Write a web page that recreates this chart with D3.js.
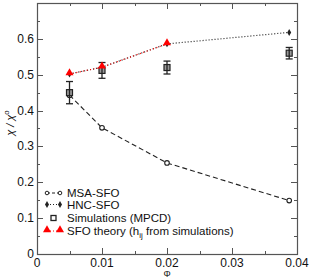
<!DOCTYPE html>
<html>
<head>
<meta charset="utf-8">
<script src="https://cdn.jsdelivr.net/npm/d3@7"></script>
<style>
  body { margin: 0; background: #fff; }
  text { font-family: "Liberation Sans", Arial, sans-serif; fill: #111; }
</style>
</head>
<body>
<div id="chart"></div>
<script>
// chart values
var msaX = [0.005, 0.01, 0.02, 0.0388];
var msaY = [0.443, 0.352, 0.254, 0.149];
var hncX = [0.005, 0.01, 0.02, 0.0388];
var hncY = [0.502, 0.521, 0.586, 0.618];
var simX = [0.005, 0.01, 0.02, 0.0388];
var simY = [0.450, 0.512, 0.520, 0.560];
var simErr = [0.031, 0.022, 0.018, 0.016];
var sfoX = [0.005, 0.01, 0.02];
var sfoY = [0.502, 0.521, 0.586];
var xTicks = [0, 0.01, 0.02, 0.03, 0.04];
var yTicks = [0, 0.1, 0.2, 0.3, 0.4, 0.5, 0.6];
var legendLabels = ["MSA-SFO", "HNC-SFO", "Simulations (MPCD)", "SFO theory (h"];

var W = 309, H = 280;
var pLeft = 37, pRight = 297, pTop = 3, pBottom = 254;

var svg = d3.select("#chart").append("svg")
    .attr("width", W).attr("height", H);

var x = d3.scaleLinear().domain([0, 0.04]).range([pLeft, pRight]);
var y = d3.scaleLinear().domain([0, 0.7]).range([pBottom, pTop]);

var axisColor = "#555";

// ticks, inward on all four sides
var g = svg.append("g").attr("stroke", axisColor).attr("stroke-width", 1);
d3.range(0, 0.0401, 0.005).forEach(function (v, i) {
    var len = i % 2 ? 3 : 6;
    var px = Math.round(x(v)) + 0.5;
    g.append("line").attr("x1", px).attr("x2", px).attr("y1", pBottom).attr("y2", pBottom - len);
    g.append("line").attr("x1", px).attr("x2", px).attr("y1", pTop).attr("y2", pTop + len);
});
d3.range(0, 0.701, 0.05).forEach(function (v, i) {
    var len = i % 2 ? 3 : 6;
    var py = Math.round(y(v)) + 0.5;
    g.append("line").attr("x1", pLeft).attr("x2", pLeft + len).attr("y1", py).attr("y2", py);
    g.append("line").attr("x1", pRight).attr("x2", pRight - len).attr("y1", py).attr("y2", py);
});
svg.append("rect")
    .attr("x", pLeft + 0.5).attr("y", pTop + 0.5)
    .attr("width", pRight - pLeft).attr("height", pBottom - pTop)
    .attr("fill", "none").attr("stroke", axisColor).attr("stroke-width", 1.2);

// tick labels
svg.selectAll(".xl").data(xTicks).enter().append("text")
    .attr("x", function (d) { return x(d); })
    .attr("y", pBottom + 13)
    .attr("text-anchor", "middle")
    .attr("font-size", 12)
    .text(function (d) { return d === 0 ? "0" : d3.format(".2f")(d); });
svg.selectAll(".yl").data(yTicks).enter().append("text")
    .attr("x", pLeft - 3)
    .attr("y", function (d) { return y(d) + 4; })
    .attr("text-anchor", "end")
    .attr("font-size", 12)
    .text(function (d) { return d === 0 ? "0" : d3.format(".1f")(d); });

// axis titles
svg.append("text")
    .attr("x", x(0.02)).attr("y", 277)
    .attr("text-anchor", "middle")
    .attr("font-size", 9)
    .attr("font-family", "DejaVu Serif, serif")
    .text("Φ");
var yt = svg.append("text")
    .attr("transform", "translate(14,123) rotate(-90)")
    .attr("text-anchor", "middle")
    .attr("font-size", 11)
    .attr("font-style", "italic");
yt.append("tspan").text("χ / χ");
yt.append("tspan").attr("dy", -5).attr("font-size", 8).attr("font-style", "normal").text("o");

var line = d3.line()
    .x(function (d) { return x(d[0]); })
    .y(function (d) { return y(d[1]); });

// MSA-SFO dashed
var msa = d3.zip(msaX, msaY);
svg.append("path").datum(msa).attr("d", line)
    .attr("fill", "none").attr("stroke", "#222").attr("stroke-width", 1.1)
    .attr("stroke-dasharray", "5,3");
svg.selectAll(".msa").data(msa).enter().append("circle")
    .attr("cx", function (d) { return x(d[0]); })
    .attr("cy", function (d) { return y(d[1]); })
    .attr("r", 2.3).attr("fill", "#fff").attr("stroke", "#222").attr("stroke-width", 1.1);

// HNC-SFO dotted
var hnc = d3.zip(hncX, hncY);
svg.append("path").datum(hnc).attr("d", line)
    .attr("fill", "none").attr("stroke", "#222").attr("stroke-width", 1.2)
    .attr("stroke-dasharray", "1,2");
var diamond = d3.symbol().type(d3.symbolDiamond).size(14);
svg.selectAll(".hnc").data(hnc).enter().append("path")
    .attr("d", diamond)
    .attr("transform", function (d) { return "translate(" + x(d[0]) + "," + y(d[1]) + ")"; })
    .attr("fill", "#222");

// simulations with error bars
var sim = d3.zip(simX, simY, simErr);
var eb = svg.selectAll(".sim").data(sim).enter().append("g").attr("stroke", "#222").attr("stroke-width", 1.3);
eb.append("rect")
    .attr("x", function (d) { return x(d[0]) - 3; })
    .attr("y", function (d) { return y(d[1]) - 3; })
    .attr("width", 6).attr("height", 6)
    .attr("fill", "#999").attr("stroke-width", 1.2);
eb.append("line")
    .attr("x1", function (d) { return x(d[0]); }).attr("x2", function (d) { return x(d[0]); })
    .attr("y1", function (d) { return y(d[1] - d[2]); }).attr("y2", function (d) { return y(d[1] + d[2]); });
eb.append("line")
    .attr("x1", function (d) { return x(d[0]) - 3.5; }).attr("x2", function (d) { return x(d[0]) + 3.5; })
    .attr("y1", function (d) { return y(d[1] + d[2]); }).attr("y2", function (d) { return y(d[1] + d[2]); });
eb.append("line")
    .attr("x1", function (d) { return x(d[0]) - 3.5; }).attr("x2", function (d) { return x(d[0]) + 3.5; })
    .attr("y1", function (d) { return y(d[1] - d[2]); }).attr("y2", function (d) { return y(d[1] - d[2]); });

// SFO theory red
var sfo = d3.zip(sfoX, sfoY);
svg.append("path").datum(sfo).attr("d", line)
    .attr("fill", "none").attr("stroke", "red").attr("stroke-width", 1.2)
    .attr("stroke-dasharray", "1,2.5");
var tri = d3.symbol().type(d3.symbolTriangle).size(28);
svg.selectAll(".sfo").data(sfo).enter().append("path")
    .attr("d", tri)
    .attr("transform", function (d) { return "translate(" + x(d[0]) + "," + (y(d[1]) - 1) + ")"; })
    .attr("fill", "red");

// legend
var lx0 = 47, lx1 = 60, ly = [193, 204.5, 218, 231];
var lg = svg.append("g");
lg.append("line").attr("x1", lx0).attr("x2", lx1).attr("y1", ly[0]).attr("y2", ly[0])
    .attr("stroke", "#222").attr("stroke-dasharray", "3,2");
[lx0, lx1].forEach(function (px) {
    lg.append("circle").attr("cx", px).attr("cy", ly[0]).attr("r", 1.8)
        .attr("fill", "#fff").attr("stroke", "#222");
});
lg.append("line").attr("x1", lx0).attr("x2", lx1).attr("y1", ly[1]).attr("y2", ly[1])
    .attr("stroke", "#222").attr("stroke-dasharray", "1,2");
[lx0, lx1].forEach(function (px) {
    lg.append("path").attr("d", diamond).attr("transform", "translate(" + px + "," + ly[1] + ")").attr("fill", "#222");
});
lg.append("rect").attr("x", 53.5 - 2.5).attr("y", ly[2] - 2.5).attr("width", 5).attr("height", 5)
    .attr("fill", "#fff").attr("stroke", "#222").attr("stroke-width", 1.3);
lg.append("line").attr("x1", lx0).attr("x2", lx1).attr("y1", ly[3]).attr("y2", ly[3])
    .attr("stroke", "red").attr("stroke-dasharray", "1,2");
[lx0, lx1].forEach(function (px) {
    lg.append("path").attr("d", tri).attr("transform", "translate(" + px + "," + (ly[3] - 1) + ")").attr("fill", "red");
});
legendLabels.forEach(function (t, i) {
    var tx = lg.append("text").attr("x", 67).attr("y", ly[i] + 4).attr("font-size", 11.5).text(t);
    if (i === 3) {
        tx.append("tspan").attr("dy", 3).attr("font-size", 8).text("ij");
        tx.append("tspan").attr("dy", -3).text(" from simulations)");
    }
});
</script>
</body>
</html>
